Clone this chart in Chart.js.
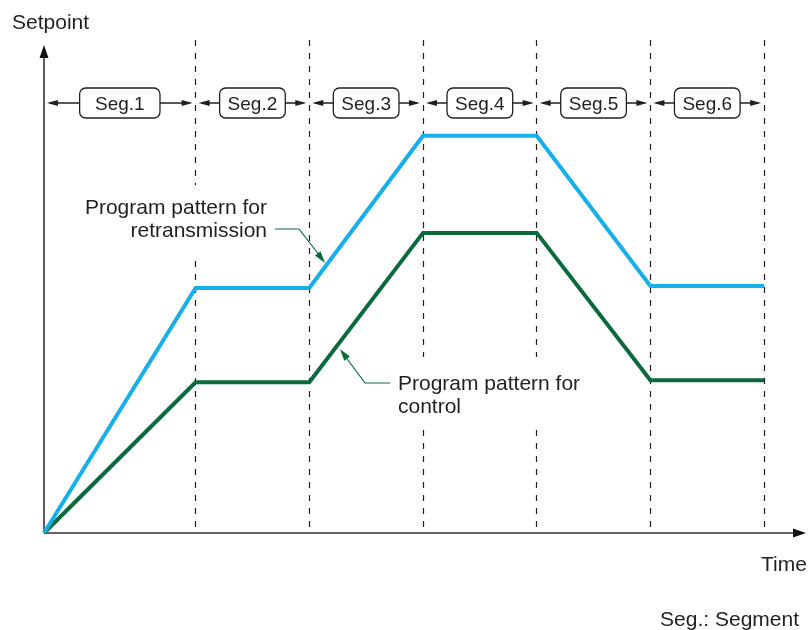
<!DOCTYPE html>
<html>
<head>
<meta charset="utf-8">
<script src="https://cdn.jsdelivr.net/npm/chart.js@4.4.0/dist/chart.umd.min.js"></script>
<style>
  html, body { margin: 0; padding: 0; background: #fff; }
  canvas { display: block; }
</style>
</head>
<body>
<canvas id="chart" width="810" height="630"></canvas>
<script>
// Program pattern data (time in segment units, setpoint in % of axis height)
const boundaries = [0, 4, 7, 10, 13, 16, 19];
const retransmission = [0, 50.2, 50.2, 81.4, 81.4, 50.6, 50.6];
const control = [0, 30.9, 30.9, 61.5, 61.5, 31.3, 31.3];
const segLabels = ['Seg.1', 'Seg.2', 'Seg.3', 'Seg.4', 'Seg.5', 'Seg.6'];

const textColor = '#231f20';
const blue = '#15b0e9';
const green = '#0a6a3c';
const font = '21px "Liberation Sans", Arial, sans-serif';

function arrowHead(ctx, x0, y0, x1, y1, len, half) {
    const a = Math.atan2(y1 - y0, x1 - x0);
    const c = Math.cos(a), s = Math.sin(a);
    ctx.beginPath();
    ctx.moveTo(x1, y1);
    ctx.lineTo(x1 - len * c + half * s, y1 - len * s - half * c);
    ctx.lineTo(x1 - len * c - half * s, y1 - len * s + half * c);
    ctx.closePath();
    ctx.fill();
}

function roundBox(ctx, x, y, w, h, r) {
    ctx.beginPath();
    ctx.moveTo(x + r, y);
    ctx.arcTo(x + w, y, x + w, y + h, r);
    ctx.arcTo(x + w, y + h, x, y + h, r);
    ctx.arcTo(x, y + h, x, y, r);
    ctx.arcTo(x, y, x + w, y, r);
    ctx.closePath();
}

const diagramPlugin = {
    id: 'diagram',
    beforeDatasetsDraw(chart) {
        const { ctx, chartArea, scales } = chart;
        const xs = scales.x;
        ctx.save();

        // dashed segment boundaries
        ctx.strokeStyle = textColor;
        ctx.lineWidth = 1.2;
        ctx.setLineDash([6, 7]);
        boundaries.slice(1).forEach(t => {
            const x = Math.floor(xs.getPixelForValue(t)) + 0.5;
            ctx.beginPath();
            ctx.moveTo(x, 40);
            ctx.lineTo(x, chartArea.bottom - 4);
            ctx.stroke();
        });
        ctx.setLineDash([]);

        // blank out dashes behind the annotation texts
        ctx.fillStyle = '#fff';
        ctx.fillRect(80, 185, 190, 70);
        ctx.fillRect(395, 357, 190, 71);

        // axes with arrows
        ctx.strokeStyle = '#333';
        ctx.fillStyle = '#111';
        ctx.lineWidth = 1.6;
        const ox = chartArea.left, oy = chartArea.bottom;
        ctx.beginPath();
        ctx.moveTo(ox, oy);
        ctx.lineTo(ox, chartArea.top + 10);
        ctx.moveTo(ox, oy);
        ctx.lineTo(806 - 10, oy);
        ctx.stroke();
        arrowHead(ctx, ox, oy, ox, chartArea.top, 13, 4.5);
        arrowHead(ctx, ox, oy, 806, oy, 13, 4.5);
        ctx.restore();
    },
    afterDatasetsDraw(chart) {
        const { ctx, scales } = chart;
        const xs = scales.x;
        ctx.save();
        ctx.font = font;
        ctx.fillStyle = textColor;
        ctx.textBaseline = 'alphabetic';

        // axis titles and note
        ctx.textAlign = 'left';
        ctx.fillText('Setpoint', 12, 29);
        ctx.fillText('Time', 761, 571);
        ctx.textAlign = 'right';
        ctx.fillText('Seg.: Segment', 799, 626);

        // segment labels with double arrows
        const y = 103;
        ctx.font = '19px "Liberation Sans", Arial, sans-serif';
        ctx.textAlign = 'center';
        ctx.lineWidth = 1.3;
        ctx.strokeStyle = textColor;
        segLabels.forEach((label, i) => {
            const x0 = xs.getPixelForValue(boundaries[i]);
            const x1 = xs.getPixelForValue(boundaries[i + 1]);
            const cx = (x0 + x1) / 2;
            const tw = ctx.measureText(label).width;
            const w = Math.max(tw + 16, (x1 - x0) * 0.53);
            const bl = cx - w / 2, br = cx + w / 2;
            ctx.beginPath();
            ctx.moveTo(x0 + 6, y);
            ctx.lineTo(bl, y);
            ctx.moveTo(br, y);
            ctx.lineTo(x1 - 6, y);
            ctx.stroke();
            arrowHead(ctx, bl, y, x0 + 3, y, 11, 3);
            arrowHead(ctx, br, y, x1 - 3, y, 11, 3);
            roundBox(ctx, bl, y - 15, w, 30, 6);
            ctx.stroke();
            ctx.fillText(label, cx, y + 7);
        });

        // annotations with leader arrows
        ctx.font = font;
        ctx.textAlign = 'right';
        ctx.fillText('Program pattern for', 267, 214);
        ctx.fillText('retransmission', 267, 237);
        ctx.textAlign = 'left';
        ctx.fillText('Program pattern for', 398, 390);
        ctx.fillText('control', 398, 413);

        ctx.strokeStyle = green;
        ctx.fillStyle = green;
        ctx.lineWidth = 1.2;
        ctx.beginPath();
        ctx.moveTo(275, 229);
        ctx.lineTo(299, 229);
        ctx.lineTo(323, 260);
        ctx.stroke();
        arrowHead(ctx, 299, 229, 325, 263, 12, 3.5);
        ctx.beginPath();
        ctx.moveTo(390, 383);
        ctx.lineTo(365, 383);
        ctx.lineTo(342, 352);
        ctx.stroke();
        arrowHead(ctx, 365, 383, 340, 349, 12, 3.5);
        ctx.restore();
    }
};

new Chart(document.getElementById('chart').getContext('2d'), {
    type: 'line',
    data: {
        datasets: [
            {
                label: 'Program pattern for retransmission',
                data: boundaries.map((t, i) => ({ x: t, y: retransmission[i] })),
                borderColor: blue,
                borderWidth: 4,
                borderJoinStyle: 'miter',
                pointRadius: 0,
                tension: 0,
                clip: false,
            },
            {
                label: 'Program pattern for control',
                data: boundaries.map((t, i) => ({ x: t, y: control[i] })),
                borderColor: green,
                borderWidth: 4,
                borderJoinStyle: 'miter',
                pointRadius: 0,
                tension: 0,
                clip: false,
            },
        ],
    },
    options: {
        responsive: false,
        animation: false,
        layout: { padding: { left: 44, right: 8, top: 45, bottom: 97 } },
        plugins: { legend: { display: false }, tooltip: { enabled: false } },
        scales: {
            x: { type: 'linear', min: 0, max: 20, display: false },
            y: { min: 0, max: 100, display: false },
        },
    },
    plugins: [diagramPlugin],
});
</script>
</body>
</html>
